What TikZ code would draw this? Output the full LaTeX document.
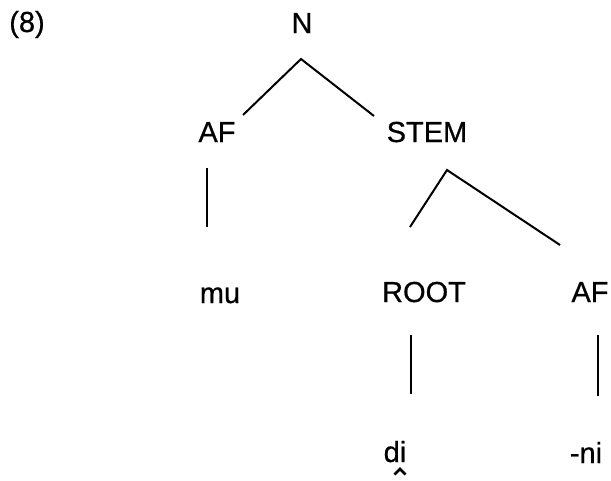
\documentclass[tikz,border=0pt]{standalone}
\usepackage{fontspec}
\setmainfont[FakeBold=0.6]{Liberation Sans}
\begin{document}
\begin{tikzpicture}[x=1pt,y=-1pt,
  lab/.style={inner sep=0pt,anchor=base,font=\fontsize{29}{32}\selectfont},
  br/.style={line width=2pt,line cap=butt}]
\useasboundingbox (0,0) rectangle (611,480);
\node[lab] (ex) at (27,32) {(8)};
\node[lab] (N) at (302,33) {N};
\node[lab] (AFa) at (217,142) {AF};
\node[lab] (STEM) at (427,142) {STEM};
\node[lab] (mu) at (220,303) {mu};
\node[lab] (ROOT) at (424,302) {ROOT};
\node[lab] (AFb) at (590,302) {AF};
\node[lab] (di) at (395,462) {di};
\node[lab] (ni) at (586,463) {-ni};
% attachment points
\coordinate (Nf) at (301,59);
\coordinate (AFah) at (243,115);
\coordinate (STEMh) at (374,116);
\coordinate (AFaf) at (207,168);
\coordinate (muh) at (207,227);
\coordinate (STEMf) at (447,170);
\coordinate (ROOTh) at (410,227);
\coordinate (AFbh) at (560,245);
\coordinate (ROOTf) at (411,335);
\coordinate (dih) at (411,394);
\coordinate (AFbf) at (598,335);
\coordinate (nih) at (598,396);
\draw[br] (AFah) -- (Nf) -- (STEMh);
\draw[br] (AFaf) -- (muh);
\draw[br] (ROOTh) -- (STEMf) -- (AFbh);
\draw[br] (ROOTf) -- (dih);
\draw[br] (AFbf) -- (nih);
% caret under di
\coordinate (car) at (400,469);
\draw[line width=2.6pt,line join=miter] ([xshift=-5.5pt,yshift=-5.5pt]car) -- (car) -- ([xshift=5.5pt,yshift=-5.5pt]car);
\end{tikzpicture}
\end{document}
